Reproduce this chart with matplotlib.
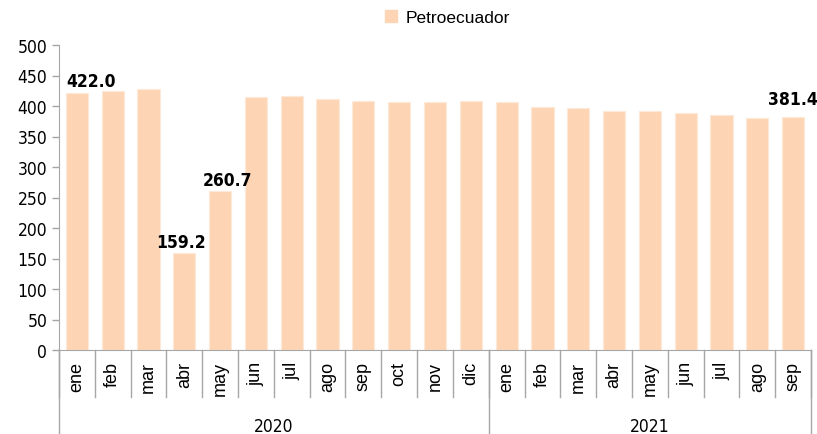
import matplotlib.pyplot as plt
import numpy as np
from matplotlib.patches import Patch

# data
months = ["ene", "feb", "mar", "abr", "may", "jun", "jul", "ago", "sep", "oct", "nov", "dic",
          "ene", "feb", "mar", "abr", "may", "jun", "jul", "ago", "sep"]
years = ["2020", "2021"]
year_counts = [12, 9]
values = [422.0, 424, 428, 159.2, 260.7, 415, 417, 412, 409, 407, 407, 409,
          406, 398, 396, 392, 392, 389, 386, 380, 381.4]
labelled = {0: "422.0", 3: "159.2", 4: "260.7", 20: "381.4"}
# manual label placement (x shift in bars, y gap in data units)
label_shift = {0: (0.4, 11), 3: (-0.1, 10), 4: (0.2, 10), 20: (0.0, 22)}

BAR = "#fdd5b5"
GRID = "#a6a6a6"

# narrow face for numbers, regular Arial-like face for the category text
plt.rcParams["font.family"] = ["DejaVu Sans"]
plt.rcParams["font.stretch"] = "condensed"
WIDE = ["Liberation Sans", "DejaVu Sans"]

fig = plt.figure(figsize=(8.17, 4.35), dpi=100)
ax = fig.add_axes([59 / 817, 84 / 435, 752 / 817, 305 / 435])

x = np.arange(len(values))
ax.bar(x, values, width=0.62, color=BAR, edgecolor="#fde9d9", linewidth=0.8)

for i, txt in labelled.items():
    dx, dy = label_shift[i]
    ax.text(x[i] + dx, values[i] + dy, txt, ha="center", va="baseline",
            fontsize=12.5, fontweight="bold", color="black")

ax.set_xlim(-0.5, len(values) - 0.5)
ax.set_ylim(0, 500)
ax.set_yticks(np.arange(0, 501, 50))
ax.tick_params(axis="y", labelsize=12.5, length=5, color=GRID, width=1)
ax.set_xticks([])

for s in ["top", "right"]:
    ax.spines[s].set_visible(False)
ax.spines["left"].set_color(GRID)
ax.spines["bottom"].set_color(GRID)

tr = ax.get_xaxis_transform()
# month separators
for b in np.arange(-0.5, len(values), 1.0):
    ax.plot([b, b], [0, -0.155], transform=tr, color=GRID, lw=1, clip_on=False)
# month labels
for i, m in enumerate(months):
    ax.text(x[i], -0.035, m, transform=tr, rotation=90, ha="center", va="top",
            fontsize=13, color="black", family=WIDE, stretch="normal")
# year separators and labels
start = -0.5
for yr, n in zip(years, year_counts):
    end = start + n
    ax.plot([start, start], [0, -0.28], transform=tr, color=GRID, lw=1, clip_on=False)
    ax.text((start + end) / 2, -0.249, yr, transform=tr, ha="center", va="center",
            fontsize=12.5, color="black")
    start = end
ax.plot([start, start], [0, -0.28], transform=tr, color=GRID, lw=1, clip_on=False)

fig.legend(handles=[Patch(facecolor=BAR, edgecolor=BAR, label="Petroecuador")],
           loc="upper center", bbox_to_anchor=(0.548, 1.01), frameon=False,
           prop={"family": WIDE, "size": 12.5, "stretch": "normal"},
           handlelength=0.7, handleheight=0.7, handletextpad=0.5)

fig.savefig("out.png", dpi=100)
